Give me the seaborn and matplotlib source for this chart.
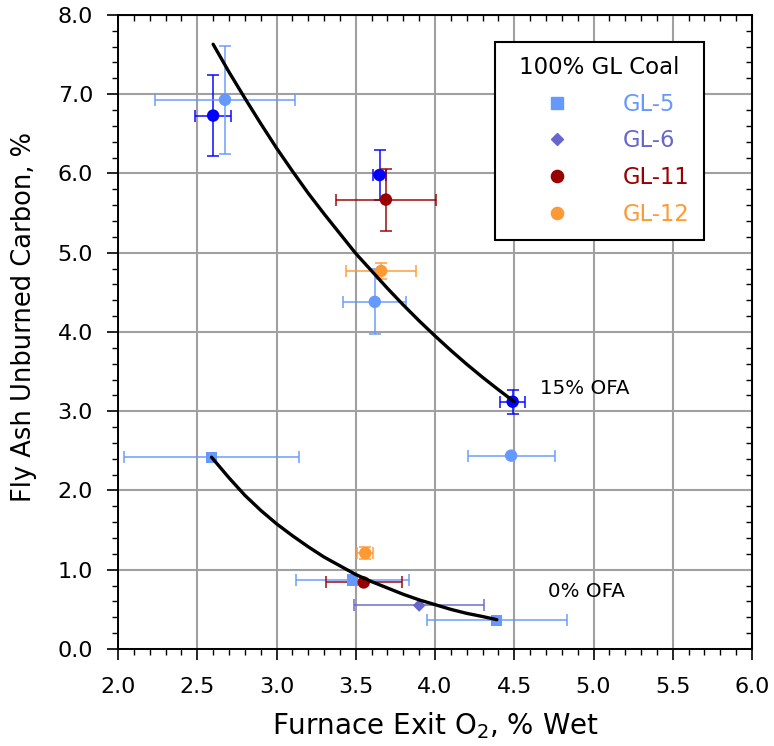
import numpy as np
import pandas as pd
import matplotlib
matplotlib.use("Agg")
import matplotlib.pyplot as plt
from matplotlib.lines import Line2D
from matplotlib.ticker import MultipleLocator, FormatStrFormatter
import seaborn as sns

# ---------------- data ----------------
avg_x = [2.60, 3.65, 4.49]
avg_y = [6.73, 5.98, 3.12]
avg_xerr = [0.115, 0.04, 0.08]
avg_yerr = [0.51, 0.32, 0.15]

gl5c_x = [2.675, 3.62, 4.48]
gl5c_y = [6.93, 4.38, 2.44]
gl5c_xerr = [0.44, 0.20, 0.275]
gl5c_yerr = [0.68, 0.41, 0.0]

gl5s_x = [2.59, 3.48, 4.39]
gl5s_y = [2.42, 0.87, 0.36]
gl5s_xerr = [0.55, 0.355, 0.44]
gl5s_yerr = [0.0, 0.0, 0.0]

gl6_x = [3.90]
gl6_y = [0.55]
gl6_xerr = [0.41]
gl6_yerr = [0.0]

gl11_x = [3.69, 3.55]
gl11_y = [5.67, 0.84]
gl11_xerr = [0.315, 0.24]
gl11_yerr = [0.39, 0.0]

gl12_x = [3.66, 3.56]
gl12_y = [4.77, 1.21]
gl12_xerr = [0.22, 0.05]
gl12_yerr = [0.10, 0.08]

upper_x = [2.60, 2.70, 2.80, 2.90, 3.00, 3.10, 3.20, 3.30, 3.40, 3.50,
           3.60, 3.70, 3.80, 3.90, 4.00, 4.10, 4.20, 4.30, 4.40, 4.50]
upper_y = [7.63, 7.28, 6.95, 6.63, 6.32, 6.03, 5.75, 5.49, 5.24, 4.99,
           4.77, 4.55, 4.34, 4.14, 3.95, 3.767, 3.593, 3.428, 3.271, 3.12]
lower_x = [2.59, 2.70, 2.80, 2.90, 3.00, 3.10, 3.20, 3.30, 3.40, 3.50,
           3.60, 3.70, 3.80, 3.90, 4.00, 4.10, 4.20, 4.30, 4.39]
lower_y = [2.42, 2.16, 1.94, 1.75, 1.58, 1.43, 1.29, 1.16, 1.05, 0.94,
           0.85, 0.77, 0.69, 0.62, 0.56, 0.50, 0.45, 0.41, 0.37]

legend_labels = ["GL-5", "GL-6", "GL-11", "GL-12"]
legend_title = "100% GL Coal"

# ---------------- styling ----------------
colors = {
    "avg": "#0000FF",
    "GL-5 c": "#6699FF",
    "GL-5": "#6699FF",
    "GL-6": "#6666CC",
    "GL-11": "#990000",
    "GL-12": "#FF9933",
}
markers = {"avg": "o", "GL-5 c": "o", "GL-5": "s", "GL-6": "D",
           "GL-11": "o", "GL-12": "o"}
sizes = {"avg": 80, "GL-5 c": 80, "GL-5": 66, "GL-6": 42,
         "GL-11": 80, "GL-12": 80}

groups = [
    ("avg", avg_x, avg_y, avg_xerr, avg_yerr),
    ("GL-5 c", gl5c_x, gl5c_y, gl5c_xerr, gl5c_yerr),
    ("GL-5", gl5s_x, gl5s_y, gl5s_xerr, gl5s_yerr),
    ("GL-6", gl6_x, gl6_y, gl6_xerr, gl6_yerr),
    ("GL-11", gl11_x, gl11_y, gl11_xerr, gl11_yerr),
    ("GL-12", gl12_x, gl12_y, gl12_xerr, gl12_yerr),
]
rows = []
for name, xs, ys, xe, ye in groups:
    for a, b, c, d in zip(xs, ys, xe, ye):
        rows.append(dict(series=name, x=a, y=b, xerr=c, yerr=d))
df = pd.DataFrame(rows)

sns.set_style("ticks")
plt.rcParams["font.family"] = ["DejaVu Sans"]
plt.rcParams["mathtext.default"] = "regular"
plt.rcParams["text.color"] = "black"
plt.rcParams["axes.labelcolor"] = "black"
plt.rcParams["xtick.color"] = "black"
plt.rcParams["ytick.color"] = "black"

fig = plt.figure(figsize=(7.74, 7.46), dpi=100)
ax = fig.add_axes([0.1525, 0.130, 0.8191, 0.850])

# error bars
for _, r in df.iterrows():
    ax.errorbar(r.x, r.y, xerr=r.xerr if r.xerr > 0 else None,
                yerr=r.yerr if r.yerr > 0 else None, fmt="none",
                ecolor=colors[r.series], elinewidth=1.4, capsize=4.5,
                capthick=1.4, alpha=0.75, zorder=2)

sns.scatterplot(data=df, x="x", y="y", hue="series", style="series",
                size="series", palette=colors, markers=markers, sizes=sizes,
                edgecolor="none", linewidth=0, legend=False, ax=ax, zorder=3)

sns.lineplot(x=upper_x, y=upper_y, color="black", lw=2.4, sort=False,
             estimator=None, ax=ax, zorder=4,
             solid_joinstyle="round", solid_capstyle="round")
sns.lineplot(x=lower_x, y=lower_y, color="black", lw=2.4, sort=False,
             estimator=None, ax=ax, zorder=4,
             solid_joinstyle="round", solid_capstyle="round")

ax.text(4.665, 3.29, "15% OFA", fontsize=14.3, ha="left", va="center",
        color="black")
ax.text(4.71, 0.72, "0% OFA", fontsize=14.3, ha="left", va="center",
        color="black")

# axes
ax.set_xlim(2.0, 6.0)
ax.set_ylim(0.0, 8.0)
ax.xaxis.set_major_locator(MultipleLocator(0.5))
ax.xaxis.set_minor_locator(MultipleLocator(0.1))
ax.yaxis.set_major_locator(MultipleLocator(1.0))
ax.yaxis.set_minor_locator(MultipleLocator(0.2))
ax.xaxis.set_major_formatter(FormatStrFormatter("%.1f"))
ax.yaxis.set_major_formatter(FormatStrFormatter("%.1f"))
ax.grid(True, which="major", color="#A0A0A0", lw=1.5)
ax.set_axisbelow(True)
ax.tick_params(which="major", direction="out", length=8, width=1.2,
               labelsize=16, colors="black")
ax.tick_params(axis="x", which="major", pad=12)
ax.tick_params(axis="y", which="major", pad=10)
ax.tick_params(which="minor", direction="out", length=4, width=1.0,
               colors="black")
for s in ax.spines.values():
    s.set_visible(True)
    s.set_color("black")
    s.set_linewidth(1.4)

sx = ax.secondary_xaxis("top")
sy = ax.secondary_yaxis("right")
sx.xaxis.set_major_locator(MultipleLocator(0.5))
sx.xaxis.set_minor_locator(MultipleLocator(0.1))
sy.yaxis.set_major_locator(MultipleLocator(1.0))
sy.yaxis.set_minor_locator(MultipleLocator(0.2))
for sec in (sx, sy):
    sec.tick_params(which="major", direction="in", length=6, width=1.2,
                    colors="black")
    sec.tick_params(which="minor", direction="in", length=4, width=1.0,
                    colors="black")
sx.tick_params(labeltop=False)
sy.tick_params(labelright=False)

ax.set_xlabel("Furnace Exit O$_2$, % Wet", fontsize=20, labelpad=10,
              color="black")
ax.set_ylabel("Fly Ash Unburned Carbon, %", fontsize=18.5, color="black")
ax.yaxis.set_label_coords(-0.128, 0.523)

# legend
handles = [Line2D([], [], ls="none", marker=markers[k], color=colors[k],
                  markersize=(8.2 if k == "GL-5" else 6.2 if k == "GL-6"
                              else 8.8))
           for k in legend_labels]
leg = ax.legend(handles, legend_labels, title=legend_title,
                loc="upper left", bbox_to_anchor=(0.594, 0.957),
                borderaxespad=0, fontsize=16.3, title_fontsize=16.5,
                frameon=True, fancybox=False, framealpha=1,
                edgecolor="black", handlelength=4.27, handletextpad=0.78,
                labelspacing=0.60, borderpad=0.62)
leg.get_frame().set_linewidth(1.5)
leg.get_title().set_color("black")
for t, k in zip(leg.get_texts(), legend_labels):
    t.set_color(colors[k])

fig.savefig("out.png", dpi=100)
